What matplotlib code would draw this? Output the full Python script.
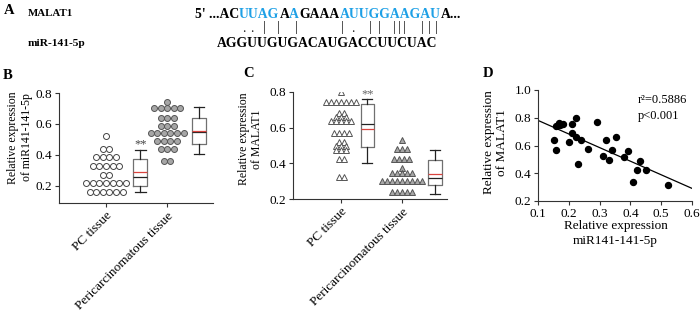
import matplotlib
matplotlib.use('Agg')
import matplotlib.pyplot as plt
import numpy as np

plt.rcParams['font.family'] = ['Liberation Serif', 'DejaVu Serif']

# panel A - sequences
malat_parts = ["5' ...AC", 'UUAG', 'A', 'A', 'GAAA', 'AUUGGAAGAU', 'A...']
malat_blue = [False, True, False, True, False, True, False]
mir_seq = 'AGGUUGUGACAUGACCUUCUAC'
pair_marks = ['.', '.', '|', '|', '|', '|', '.', '|', '|', '|', '|', '|', '|', '|', '|']
# mark centres as fraction of the miR sequence width
pair_pos = [0.123, 0.159, 0.214, 0.277, 0.359, 0.568, 0.618, 0.695, 0.736,
            0.805, 0.827, 0.850, 0.932, 0.964, 0.995]

# panel B - miR-141-5p
groups = ['PC tissue', 'Pericarcinomatous tissue']
b_pc = [0.52, 0.44, 0.44, 0.39, 0.39, 0.39, 0.39, 0.33, 0.33, 0.33, 0.33, 0.33,
        0.27, 0.27, 0.22, 0.22, 0.22, 0.22, 0.22, 0.22, 0.22,
        0.16, 0.16, 0.16, 0.16, 0.16, 0.16]
b_peri = [0.74, 0.70, 0.70, 0.70, 0.70, 0.70, 0.64, 0.64, 0.64, 0.59, 0.59, 0.59,
          0.54, 0.54, 0.54, 0.54, 0.54, 0.54, 0.49, 0.49, 0.49, 0.49,
          0.44, 0.44, 0.44, 0.36, 0.36]
b_box = [dict(whislo=0.16, q1=0.20, med=0.257, mean=0.288, q3=0.375, whishi=0.432),
         dict(whislo=0.406, q1=0.471, med=0.546, mean=0.557, q3=0.641, whishi=0.712)]
b_yticks = [0.2, 0.4, 0.6, 0.8]

# panel C - MALAT1
c_pc = [0.80, 0.745, 0.745, 0.745, 0.745, 0.745, 0.745, 0.745,
        0.685, 0.685, 0.66, 0.66, 0.66, 0.64, 0.64, 0.64, 0.64, 0.64,
        0.568, 0.568, 0.568, 0.568, 0.522, 0.522, 0.498, 0.498, 0.498,
        0.476, 0.476, 0.476, 0.424, 0.424, 0.322, 0.322]
c_peri = [0.53, 0.478, 0.478, 0.478, 0.424, 0.424, 0.424, 0.424, 0.375,
          0.345, 0.345, 0.345, 0.345, 0.345,
          0.303, 0.303, 0.303, 0.303, 0.303, 0.303, 0.303, 0.303, 0.303,
          0.238, 0.238, 0.238, 0.238, 0.238]
c_box = [dict(whislo=0.404, q1=0.49, med=0.62, mean=0.591, q3=0.731, whishi=0.759),
         dict(whislo=0.228, q1=0.279, med=0.32, mean=0.339, q3=0.419, whishi=0.475)]
c_yticks = [0.2, 0.4, 0.6, 0.8]

# panel D - correlation
d_mir = [0.151, 0.160, 0.158, 0.168, 0.172, 0.182, 0.200, 0.211, 0.211, 0.222,
         0.222, 0.230, 0.239, 0.261, 0.291, 0.312, 0.321, 0.332, 0.341, 0.352,
         0.380, 0.391, 0.410, 0.421, 0.430, 0.451, 0.522]
d_malat = [0.639, 0.566, 0.740, 0.764, 0.747, 0.754, 0.627, 0.692, 0.754, 0.795,
           0.658, 0.465, 0.639, 0.573, 0.766, 0.525, 0.643, 0.499, 0.566, 0.663,
           0.518, 0.559, 0.337, 0.427, 0.489, 0.427, 0.313]
d_xticks = [0.1, 0.2, 0.3, 0.4, 0.5, 0.6]
d_yticks = [0.2, 0.4, 0.6, 0.8, 1.0]

blue = '#1ea0e6'
red = '#d9443f'
axcol = '#333333'


def swarm(ax, values, center, step, **kw):
    vals = np.array(values)
    xs = np.zeros(len(vals))
    for v in np.unique(vals):
        idx = np.where(vals == v)[0]
        xs[idx] = center + (np.arange(len(idx)) - (len(idx) - 1) / 2) * step
    ax.plot(xs, vals, linestyle='none', **kw)


def draw_box(ax, stats, pos, width):
    for s in stats:
        s['fliers'] = []
    ax.bxp(stats, positions=pos, widths=width, capwidths=width * 0.75,
           showmeans=True, meanline=True, showfliers=False, manage_ticks=False,
           boxprops=dict(color='#707070', lw=0.9),
           whiskerprops=dict(color='#222222', lw=0.9),
           capprops=dict(color='#222222', lw=0.9),
           medianprops=dict(color='#222222', lw=0.9),
           meanprops=dict(color=red, lw=0.9, linestyle='-'))


def style(ax):
    for s in ['top', 'right']:
        ax.spines[s].set_visible(False)
    for s in ['left', 'bottom']:
        ax.spines[s].set_color(axcol)
        ax.spines[s].set_linewidth(0.8)
    ax.tick_params(length=3, width=0.8, color=axcol, labelsize=9.5, pad=2)


fig = plt.figure(figsize=(7, 3.18), dpi=100)
renderer = fig.canvas.get_renderer()

# ---- panel A
fig.text(4 / 700, 1 - 11 / 318, 'A', fontsize=10.5, fontweight='bold', va='center')
fig.text(28 / 700, 1 - 14 / 318, 'MALAT1', fontsize=7.8, fontweight='bold', va='center')
fig.text(28 / 700, 1 - 43 / 318, 'miR-141-5p', fontsize=8.2, fontweight='bold', va='center')

x = 195 / 700
for part, is_blue in zip(malat_parts, malat_blue):
    t = fig.text(x, 1 - 14 / 318, part, fontsize=9.8, fontweight='bold', va='center',
                 color=blue if is_blue else 'black')
    x += t.get_window_extent(renderer).width / fig.bbox.width

mt = fig.text(217 / 700, 1 - 43.5 / 318, mir_seq, fontsize=9.8, fontweight='bold', va='center')
mw = mt.get_window_extent(renderer).width / fig.bbox.width
for mark, p in zip(pair_marks, pair_pos):
    fig.text(217 / 700 + p * mw, 1 - 28 / 318, mark, fontsize=10, ha='center', va='center',
             color='#222222')

# ---- panel B
axb = fig.add_axes([59 / 700, 1 - 203 / 318, 154 / 700, 110 / 318])
swarm(axb, b_pc, 1, 0.108, marker='o', ms=4.3, mfc='white', mec='#444444', mew=0.7)
swarm(axb, b_peri, 2, 0.108, marker='o', ms=4.3, mfc='#a6a6a6', mec='#555555', mew=0.7)
draw_box(axb, b_box, [1.56, 2.52], 0.23)
axb.text(1.56, 0.47, '**', ha='center', va='center', fontsize=9, color='#444444')
axb.set_xlim(0.23, 2.75)
axb.set_ylim(0.09, 0.8)
axb.set_yticks(b_yticks)
axb.set_yticklabels([f'{v:.1f}' for v in b_yticks])
axb.set_xticks([1, 2])
axb.set_xticklabels(groups, rotation=45, ha='right', rotation_mode='anchor', fontsize=10.5)
style(axb)
axb.set_ylabel('Relative expression\nof miR141-141-5p', fontsize=8.5, linespacing=1.15)
axb.yaxis.set_label_coords(-0.17, 0.595)
fig.text(3 / 700, 1 - 75 / 318, 'B', fontsize=10.5, fontweight='bold', va='center')

# ---- panel C
axc = fig.add_axes([293 / 700, 1 - 199 / 318, 154 / 700, 107 / 318])
swarm(axc, c_pc, 1, 0.082, marker='^', ms=4.8, mfc='white', mec='#555555', mew=0.7)
swarm(axc, c_peri, 2, 0.082, marker='^', ms=4.8, mfc='#a6a6a6', mec='#555555', mew=0.7)
draw_box(axc, c_box, [1.43, 2.54], 0.22)
axc.text(1.43, 0.789, '**', ha='center', va='center', fontsize=9, color='#666666')
axc.set_xlim(0.21, 2.74)
axc.set_ylim(0.2, 0.8)
axc.set_yticks(c_yticks)
axc.set_yticklabels([f'{v:.1f}' for v in c_yticks])
axc.set_xticks([1, 2])
axc.set_xticklabels(groups, rotation=45, ha='right', rotation_mode='anchor', fontsize=10.5)
style(axc)
axc.set_ylabel('Relative expression\nof MALAT1', fontsize=8.5, linespacing=1.15)
axc.yaxis.set_label_coords(-0.195, 0.56)
fig.text(243 / 700, 1 - 74 / 318, 'C', fontsize=10.5, fontweight='bold', va='center')

# ---- panel D
axd = fig.add_axes([538 / 700, 1 - 201 / 318, 154 / 700, 111 / 318])
axd.plot(d_mir, d_malat, 'o', ms=4.3, color='black')
k, b = np.polyfit(d_mir, d_malat, 1)
lx = np.array([0.1, 0.6])
axd.plot(lx, k * lx + b, color='black', lw=0.9)
axd.text(0.65, 0.96, 'r²=0.5886\np<0.001', transform=axd.transAxes, fontsize=9,
         va='top', linespacing=1.45)
axd.set_xlim(0.1, 0.6)
axd.set_ylim(0.2, 1.0)
axd.set_xticks(d_xticks)
axd.set_xticklabels([f'{v:.1f}' for v in d_xticks])
axd.set_yticks(d_yticks)
axd.set_yticklabels([f'{v:.1f}' for v in d_yticks])
style(axd)
axd.set_ylabel('Relative expression\nof MALAT1', fontsize=9.5, linespacing=1.15)
axd.yaxis.set_label_coords(-0.195, 0.527)
axd.set_xlabel('Relative expression\nmiR141-141-5p', fontsize=9.5, linespacing=1.3)
axd.xaxis.set_label_coords(0.503, -0.17)
fig.text(483 / 700, 1 - 74 / 318, 'D', fontsize=10.5, fontweight='bold', va='center')

fig.savefig('out.png', dpi=100)
